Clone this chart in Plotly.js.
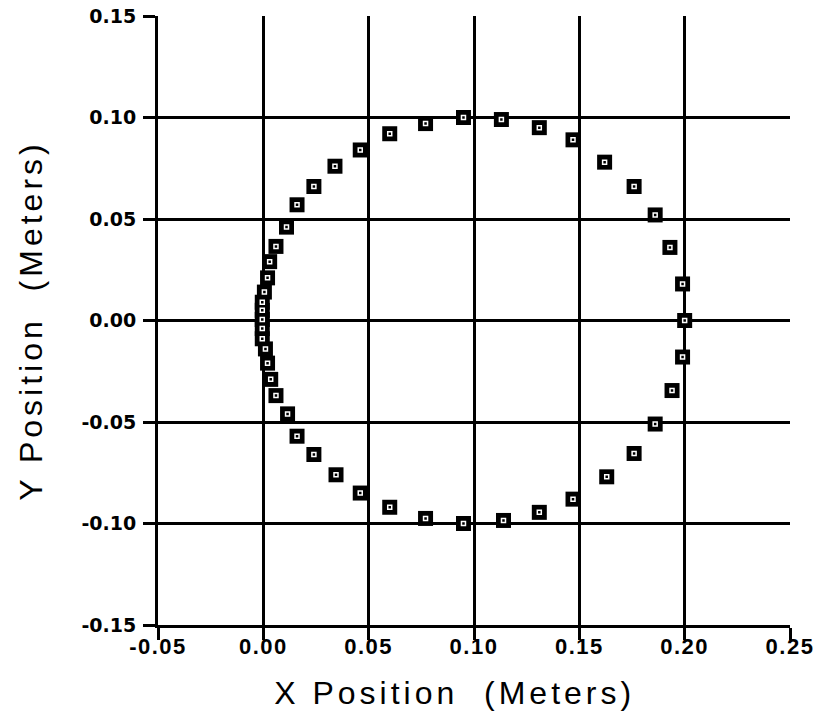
<!DOCTYPE html>
<html>
<head>
<meta charset="utf-8">
<script src="https://cdn.plot.ly/plotly-3.0.1.min.js"></script>
<style>
html,body{margin:0;padding:0;background:#fff;}
#chart{width:821px;height:721px;}
</style>
</head>
<body>
<div id="chart"></div>
<script>
// X and Y positions (meters) of the measured points
const xPos = [
  0.200, 0.199, 0.193, 0.186, 0.176, 0.162, 0.147, 0.131, 0.113, 0.095,
  0.077, 0.060, 0.046, 0.034, 0.024, 0.016, 0.011, 0.006, 0.003, 0.002,
  0.0005, -0.0005, -0.0005, -0.0005, -0.0005, -0.0005, 0.001, 0.002, 0.0035, 0.006,
  0.0115, 0.016, 0.024, 0.0345, 0.046, 0.060, 0.077, 0.095, 0.114, 0.131,
  0.147, 0.163, 0.176, 0.186, 0.194, 0.199
];
const yPos = [
  0.000, 0.018, 0.036, 0.052, 0.066, 0.078, 0.089, 0.095, 0.099, 0.100,
  0.097, 0.092, 0.084, 0.076, 0.066, 0.057, 0.046, 0.0365, 0.029, 0.021,
  0.014, 0.009, 0.005, 0.0005, -0.004, -0.009, -0.014, -0.021, -0.029, -0.037,
  -0.046, -0.057, -0.066, -0.076, -0.085, -0.092, -0.0975, -0.100, -0.0985, -0.0945,
  -0.088, -0.077, -0.0655, -0.051, -0.0345, -0.018
];
const xTicks = [-0.05, 0.00, 0.05, 0.10, 0.15, 0.20, 0.25];
const xTickText = ["-0.05", "0.00", "0.05", "0.10", "0.15", "0.20", "0.25"];
const yTicks = [-0.15, -0.10, -0.05, 0.00, 0.05, 0.10, 0.15];
const yTickText = ["-0.15", "-0.10", "-0.05", "0.00", "0.05", "0.10", "0.15"];
const xGrid = [0.00, 0.05, 0.10, 0.15, 0.20];
const yGrid = [-0.10, -0.05, 0.00, 0.05, 0.10];

const spaced = (s, px) => '<span style="letter-spacing:' + px + 'px">' + s + '</span>';

const traces = [
  // invisible trace to activate grid-only overlay axes
  {x: [xGrid[0]], y: [yGrid[0]], xaxis: 'x2', yaxis: 'y2', mode: 'markers',
   marker: {opacity: 0}, hoverinfo: 'skip', showlegend: false},
  {x: xPos, y: yPos, mode: 'markers', type: 'scatter', showlegend: false,
   marker: {symbol: 'square', size: 15, color: '#000', line: {width: 0}}},
  {x: xPos, y: yPos, mode: 'markers', type: 'scatter', showlegend: false,
   marker: {symbol: 'square-open', size: 4, color: '#fff', line: {width: 1.5, color: '#fff'}}}
];

const layout = {
  width: 821, height: 721,
  margin: {l: 158, r: 31, t: 16, b: 96},
  paper_bgcolor: '#fff', plot_bgcolor: 'rgba(0,0,0,0)',
  showlegend: false,
  xaxis: {
    range: [-0.05, 0.25], tickmode: 'array', tickvals: xTicks,
    ticktext: xTickText.map(t => spaced(t, 1.5)),
    showgrid: false, zeroline: false, showline: true, linewidth: 3, linecolor: '#000',
    ticks: 'outside', ticklen: 12, tickwidth: 3, tickcolor: '#000', ticklabelstandoff: -12,
    tickfont: {family: 'Liberation Sans, Arial, sans-serif', size: 22, color: '#000', weight: 'bold'},
    title: {text: spaced('X Position  (Meters)&nbsp;&nbsp;&nbsp;', 4), standoff: 24,
            font: {family: 'Liberation Sans, Arial, sans-serif', size: 32, color: '#000'}},
    automargin: false, layer: 'above traces'
  },
  yaxis: {
    range: [-0.15, 0.15], tickmode: 'array', tickvals: yTicks, ticktext: yTickText,
    showgrid: false, zeroline: false, showline: true, linewidth: 3, linecolor: '#000',
    ticks: 'outside', ticklen: 12, tickwidth: 3, tickcolor: '#000', ticklabelstandoff: 3,
    tickfont: {family: 'DejaVu Sans, sans-serif', size: 19, color: '#000', weight: 'bold'},
    title: {text: spaced('Y Position  (Meters)', 4), standoff: 30,
            font: {family: 'Liberation Sans, Arial, sans-serif', size: 32, color: '#000'}},
    automargin: false, layer: 'above traces'
  },
  xaxis2: {
    range: [-0.05, 0.25], overlaying: 'x', anchor: 'y', tickmode: 'array', tickvals: xGrid,
    showticklabels: false, ticks: '', showgrid: true, gridcolor: '#000', gridwidth: 3,
    zeroline: false, showline: false
  },
  yaxis2: {
    range: [-0.15, 0.15], overlaying: 'y', anchor: 'x', tickmode: 'array', tickvals: yGrid,
    showticklabels: false, ticks: '', showgrid: true, gridcolor: '#000', gridwidth: 3,
    zeroline: false, showline: false
  }
};

Plotly.newPlot('chart', traces, layout, {displayModeBar: false, staticPlot: true});
</script>
</body>
</html>
